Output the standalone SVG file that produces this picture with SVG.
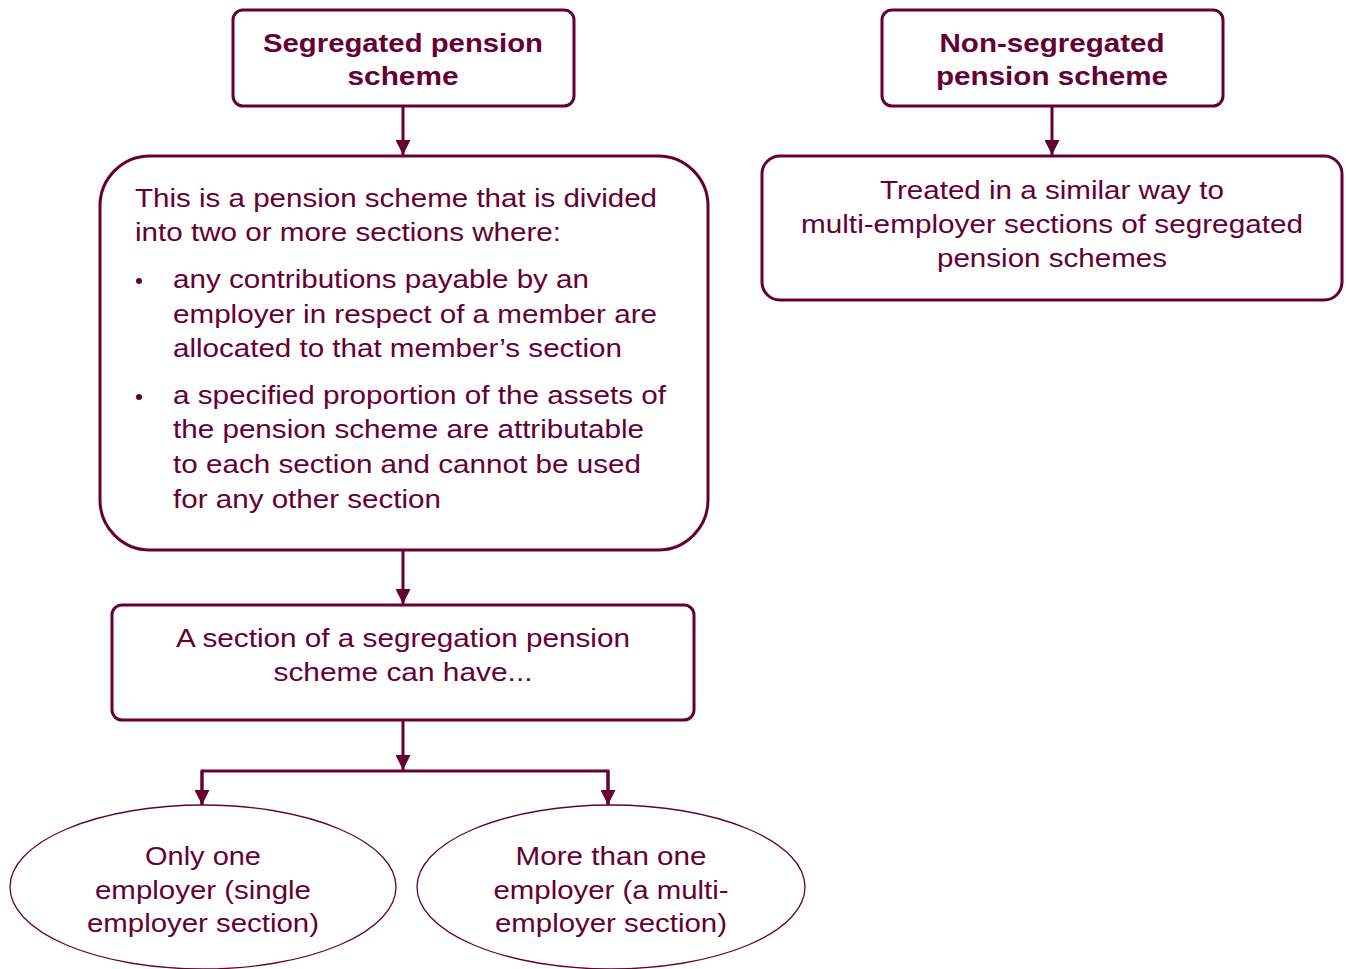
<svg xmlns="http://www.w3.org/2000/svg" width="1346" height="969" viewBox="0 0 1346 969">
<style>
.box{fill:#fff;stroke:#660033;stroke-width:3}
.ell{fill:#fff;stroke:#660033;stroke-width:1.3}
.t{font-family:"Liberation Sans",Arial,sans-serif;font-size:26px;fill:#660033}
.b{font-weight:bold}
.c{text-anchor:middle}
.con{fill:none;stroke:#660033;stroke-width:3}
</style>
<defs>
<marker id="ah" viewBox="0 0 10 10" refX="10" refY="5" markerWidth="5" markerHeight="5" markerUnits="strokeWidth" orient="auto">
<path d="M0,0 L10,5 L0,10 z" fill="#660033"/>
</marker>
</defs>
<rect width="1346" height="969" fill="#fff"/>
<g id="connectors">
<line class="con" x1="403" y1="106" x2="403" y2="155" marker-end="url(#ah)"/>
<line class="con" x1="403" y1="550" x2="403" y2="604" marker-end="url(#ah)"/>
<line class="con" x1="403" y1="720" x2="403" y2="770" marker-end="url(#ah)"/>
<polyline class="con" points="202,805 202,771 608,771 608,805"/>
<line class="con" x1="202" y1="771" x2="202" y2="805" marker-end="url(#ah)"/>
<line class="con" x1="608" y1="771" x2="608" y2="805" marker-end="url(#ah)"/>
<line class="con" x1="1052" y1="106" x2="1052" y2="155" marker-end="url(#ah)"/>
</g>
<g id="seg">
<rect class="box" x="233" y="10" width="341" height="96" rx="10"/>
<text class="t b c" x="403" y="52" textLength="280" lengthAdjust="spacingAndGlyphs">Segregated pension</text>
<text class="t b c" x="403" y="85" textLength="111" lengthAdjust="spacingAndGlyphs">scheme</text>
</g>
<g id="definition">
<rect class="box" x="100" y="156" width="608" height="394" rx="50"/>
<text class="t" x="135" y="207" textLength="522" lengthAdjust="spacingAndGlyphs">This is a pension scheme that is divided</text>
<text class="t" x="135" y="241" textLength="426" lengthAdjust="spacingAndGlyphs">into two or more sections where:</text>
<circle cx="139" cy="281" r="3" fill="#660033"/>
<text class="t" x="173" y="288" textLength="416" lengthAdjust="spacingAndGlyphs">any contributions payable by an</text>
<text class="t" x="173" y="323" textLength="484" lengthAdjust="spacingAndGlyphs">employer in respect of a member are</text>
<text class="t" x="173" y="357" textLength="449" lengthAdjust="spacingAndGlyphs">allocated to that member’s section</text>
<circle cx="139" cy="397" r="3" fill="#660033"/>
<text class="t" x="173" y="404" textLength="493" lengthAdjust="spacingAndGlyphs">a specified proportion of the assets of</text>
<text class="t" x="173" y="438" textLength="471" lengthAdjust="spacingAndGlyphs">the pension scheme are attributable</text>
<text class="t" x="173" y="473" textLength="468" lengthAdjust="spacingAndGlyphs">to each section and cannot be used</text>
<text class="t" x="173" y="508" textLength="268" lengthAdjust="spacingAndGlyphs">for any other section</text>
</g>
<g id="section">
<rect class="box" x="112" y="605" width="582" height="115" rx="10"/>
<text class="t c" x="403" y="647" textLength="454" lengthAdjust="spacingAndGlyphs">A section of a segregation pension</text>
<text class="t c" x="403" y="681" textLength="259" lengthAdjust="spacingAndGlyphs">scheme can have...</text>
</g>
<g id="single">
<ellipse class="ell" cx="203" cy="887" rx="193" ry="82"/>
<text class="t c" x="203" y="865" textLength="116" lengthAdjust="spacingAndGlyphs">Only one</text>
<text class="t c" x="203" y="899" textLength="216" lengthAdjust="spacingAndGlyphs">employer (single</text>
<text class="t c" x="203" y="932" textLength="232" lengthAdjust="spacingAndGlyphs">employer section)</text>
</g>
<g id="multi">
<ellipse class="ell" cx="611" cy="887" rx="194" ry="82"/>
<text class="t c" x="611" y="865" textLength="191" lengthAdjust="spacingAndGlyphs">More than one</text>
<text class="t c" x="611" y="899" textLength="235" lengthAdjust="spacingAndGlyphs">employer (a multi-</text>
<text class="t c" x="611" y="932" textLength="232" lengthAdjust="spacingAndGlyphs">employer section)</text>
</g>
<g id="nonseg">
<rect class="box" x="882" y="10" width="341" height="96" rx="10"/>
<text class="t b c" x="1052" y="52" textLength="225" lengthAdjust="spacingAndGlyphs">Non-segregated</text>
<text class="t b c" x="1052" y="85" textLength="232" lengthAdjust="spacingAndGlyphs">pension scheme</text>
</g>
<g id="treated">
<rect class="box" x="762" y="156" width="580" height="144" rx="18"/>
<text class="t c" x="1052" y="199" textLength="344" lengthAdjust="spacingAndGlyphs">Treated in a similar way to</text>
<text class="t c" x="1052" y="233" textLength="502" lengthAdjust="spacingAndGlyphs">multi-employer sections of segregated</text>
<text class="t c" x="1052" y="267" textLength="230" lengthAdjust="spacingAndGlyphs">pension schemes</text>
</g>
</svg>
